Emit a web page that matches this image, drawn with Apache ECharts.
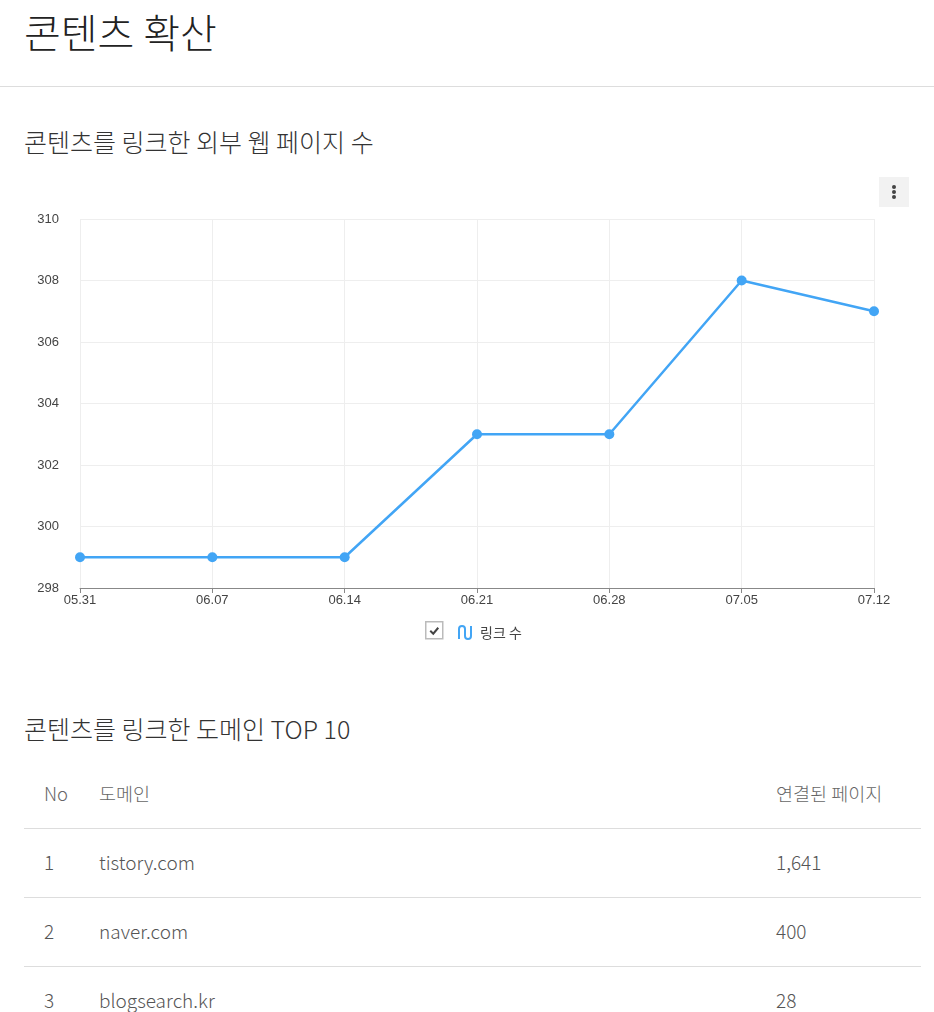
<!DOCTYPE html>
<html>
<head>
<meta charset="utf-8">
<script src="https://cdn.jsdelivr.net/npm/echarts@6/dist/echarts.min.js"></script>
<style>
  body { margin: 0; background: #fff; font-family: "Noto Sans CJK KR", "Noto Sans", sans-serif; color: #222; }
  .page { position: relative; width: 934px; height: 1012px; overflow: hidden; }
  h1 { position: absolute; left: 24px; top: 2px; margin: 0; font-size: 40px; font-weight: 300; color: #222; }
  .hr { position: absolute; left: 0; right: 0; top: 86px; border-top: 1px solid #ddd; }
  h2 { position: absolute; left: 24px; margin: 0; font-size: 25px; font-weight: 300; color: #333; }
  #chart { position: absolute; left: 0; top: 170px; width: 934px; height: 480px; }
  .menu { position: absolute; left: 879px; top: 177px; width: 30px; height: 30px; background: #f2f2f2; }
  .menu i { position: absolute; left: 13px; width: 4px; height: 4px; border-radius: 2px; background: #444; }
  table { position: absolute; left: 24px; top: 761px; width: 897px; border-collapse: collapse; font-size: 19px; color: #555; }
  th, td { text-align: left; font-weight: 300; padding: 0 0 4px 0; height: 64px; border-bottom: 1px solid #ddd; }
  th { height: 64px; padding-bottom: 3px; color: #666; font-size: 18.5px; }
  .c1 { padding-left: 20px; width: 55px; }
  .c3 { width: 145px; }
</style>
</head>
<body>
<div class="page">
  <h1>콘텐츠 확산</h1>
  <div class="hr"></div>
  <h2 style="top:123px">콘텐츠를 링크한 외부 웹 페이지 수</h2>
  <div id="chart"></div>
  <div class="menu"><i style="top:8px"></i><i style="top:13px"></i><i style="top:18px"></i></div>
  <h2 style="top:710px">콘텐츠를 링크한 도메인 TOP 10</h2>
  <table id="tbl">
    <thead><tr><th class="c1">No</th><th>도메인</th><th class="c3">연결된 페이지</th></tr></thead>
    <tbody></tbody>
  </table>
</div>
<script>
const dates = ['05.31', '06.07', '06.14', '06.21', '06.28', '07.05', '07.12'];
const linkCounts = [299, 299, 299, 303, 303, 308, 307];
const seriesName = '링크 수';

const domains = ['tistory.com', 'naver.com', 'blogsearch.kr'];
const domainPages = [1641, 400, 28];

// table rows
const tbody = document.querySelector('#tbl tbody');
domains.forEach((d, i) => {
  const tr = document.createElement('tr');
  tr.innerHTML = '<td class="c1">' + (i + 1) + '</td><td>' + d + '</td><td class="c3">' + domainPages[i].toLocaleString('en-US') + '</td>';
  tbody.appendChild(tr);
});

const chart = echarts.init(document.getElementById('chart'));
const lineColor = '#42a5f5';
const option = {
  animation: false,
  textStyle: { fontFamily: '"Liberation Sans", Arial, sans-serif' },
  grid: { left: 80, right: 60, top: 49, bottom: 62 },
  xAxis: {
    type: 'category',
    data: dates,
    boundaryGap: false,
    axisLine: { lineStyle: { color: '#888' } },
    axisTick: { alignWithLabel: true, length: 5, lineStyle: { color: '#888' } },
    axisLabel: { color: '#444', fontSize: 13, margin: 6 },
    splitLine: { show: true, lineStyle: { color: '#eeeeee' } }
  },
  yAxis: {
    type: 'value',
    min: 298,
    max: 310,
    interval: 2,
    axisLine: { show: false },
    axisTick: { show: false },
    axisLabel: { color: '#444', fontSize: 13, margin: 21 },
    splitLine: { lineStyle: { color: '#eeeeee' } }
  },
  legend: {
    data: [seriesName],
    left: 453,
    top: 450,
    itemWidth: 12,
    itemHeight: 13,
    itemGap: 10,
    icon: 'path://M0,13 L0,3 Q0,0 3,0 Q6,0 6,3 L6,10 Q6,13 9,13 Q12,13 12,10 L12,0',
    itemStyle: { color: 'transparent', borderColor: lineColor, borderWidth: 2 },
    textStyle: { color: '#444', fontSize: 14, padding: [0, 0, 0, 4], fontFamily: '"Noto Sans CJK KR", sans-serif' }
  },
  graphic: [
    {
      type: 'group',
      left: 425,
      top: 451,
      children: [
        { type: 'rect', shape: { x: 0, y: 0, width: 17, height: 17 }, style: { fill: '#fff', stroke: '#bbb', lineWidth: 1.5 } },
        { type: 'polyline', shape: { points: [[4.5, 9], [7.5, 12], [12.5, 6]] }, style: { fill: null, stroke: '#444', lineWidth: 2 } }
      ]
    }
  ],
  series: [{
    name: seriesName,
    type: 'line',
    data: linkCounts,
    symbol: 'circle',
    symbolSize: 10,
    lineStyle: { color: lineColor, width: 2.5 },
    itemStyle: { color: lineColor }
  }]
};
chart.setOption(option);
</script>
</body>
</html>
